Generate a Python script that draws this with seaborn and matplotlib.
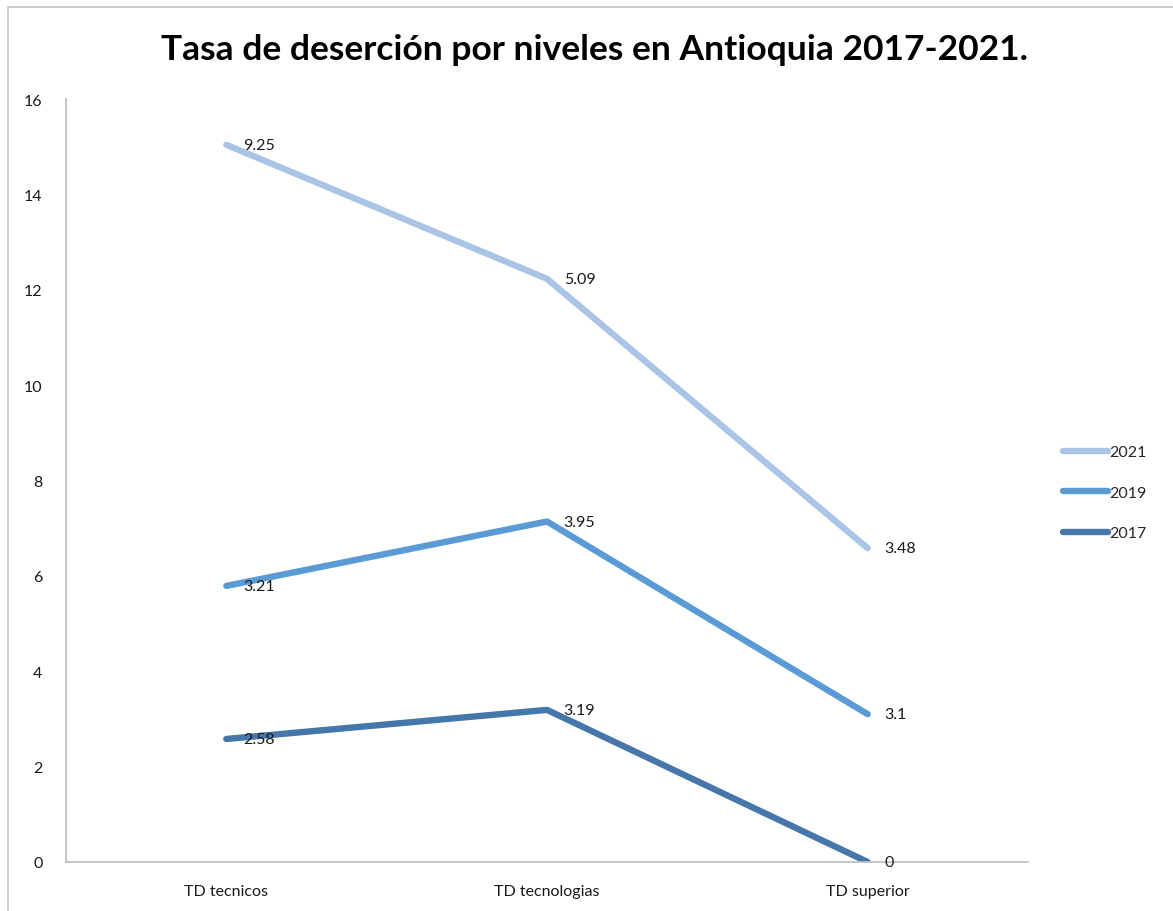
import matplotlib
matplotlib.use("Agg")
import matplotlib.pyplot as plt
import seaborn as sns
import pandas as pd
import numpy as np
from matplotlib.patches import Rectangle

# Dropout rate by level, Antioquia (stacked series)
niveles = ["TD tecnicos", "TD tecnologias", "TD superior"]
td_2017 = [2.58, 3.19, 0]
td_2019 = [3.21, 3.95, 3.1]
td_2021 = [9.25, 5.09, 3.48]

series = {"2017": td_2017, "2019": td_2019, "2021": td_2021}
colores = {"2021": "#a9c4e5", "2019": "#5b9bd5", "2017": "#4677aa"}

# cumulative (stacked) values
acum = {}
base = np.zeros(len(niveles))
for anio in ["2017", "2019", "2021"]:
    base = base + np.array(series[anio])
    acum[anio] = base.copy()

rows = []
for anio in ["2021", "2019", "2017"]:
    for i, nivel in enumerate(niveles):
        rows.append({"x": i, "nivel": nivel, "anio": anio,
                     "valor": series[anio][i], "acum": acum[anio][i]})
df = pd.DataFrame(rows)

sns.set_theme(style="white")
plt.rcParams["font.family"] = ["Lato", "DejaVu Sans"]

fig = plt.figure(figsize=(11.73, 9.12), dpi=100)
ax = fig.add_axes([66 / 1173, 1 - 863 / 912, (1028 - 66) / 1173, (863 - 100) / 912])

sns.lineplot(data=df, x="x", y="acum", hue="anio", hue_order=["2021", "2019", "2017"],
             palette=colores, linewidth=4.6, ax=ax, legend=True, sort=False,
             solid_capstyle="round")

for _, r in df.iterrows():
    ax.annotate(f"{r['valor']:g}", (r["x"], r["acum"]), xytext=(12, 0),
                textcoords="offset points", va="center", ha="left",
                fontsize=11.5, color="#1a1a1a")

ax.set_xlim(-0.5, 2.5)
ax.set_ylim(0, 16)
ax.set_yticks(range(0, 17, 2))
ax.set_xticks(range(len(niveles)))
ax.set_xticklabels(niveles)
ax.set_xlabel("")
ax.set_ylabel("")
ax.tick_params(axis="y", length=0, pad=17, labelsize=11.5, labelcolor="#1a1a1a")
ax.tick_params(axis="x", length=0, pad=16, labelsize=11.5, labelcolor="#1a1a1a")
for lab in ax.get_yticklabels():
    lab.set_horizontalalignment("right")

for s in ["top", "right"]:
    ax.spines[s].set_visible(False)
for s in ["left", "bottom"]:
    ax.spines[s].set_color("#c0c0c0")
    ax.spines[s].set_linewidth(1.3)

leg = ax.legend(loc="center left", bbox_to_anchor=(1.03, 0.484), frameon=False,
                fontsize=11.5, handlelength=2.8, handletextpad=0.05,
                labelspacing=1.65, borderaxespad=0)
for h in leg.get_lines():
    h.set_linewidth(4.6)
    h.set_solid_capstyle("round")

fig.text(0.5 + 8 / 1173, 1 - 50 / 912, "Tasa de deserción por niveles en Antioquia 2017-2021.",
         ha="center", va="center", fontsize=25.5, fontweight="bold", color="black")

fig.patches.append(Rectangle((8 / 1173, -0.01), 1.02, 1 - 8 / 912 + 0.01,
                             transform=fig.transFigure, fill=False,
                             edgecolor="#c8c8c8", linewidth=1.3))

fig.savefig("out.png", dpi=100)
